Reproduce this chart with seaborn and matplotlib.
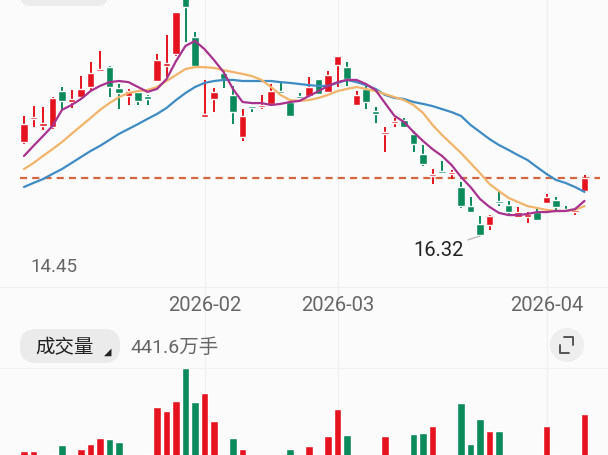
import numpy as np
import pandas as pd
import seaborn as sns
import matplotlib as mpl
mpl.use('Agg')
import matplotlib.pyplot as plt
from matplotlib.patches import FancyBboxPatch, Circle

# daily candles (price), oldest first
opens = [19.77, 20.62, 20.36, 20.32, 21.64, 21.24, 21.42, 21.79, 22.38, 22.52,
         21.75, 21.46, 21.61, 21.46, 22.01, 22.56, 23.00, 25.39, 23.63, 20.69,
         21.35, 22.30, 21.50, 19.96, 21.09, 21.06, 21.17, 21.64, 21.24, 21.46,
         21.46, 22.08, 21.61, 22.60, 22.52, 21.13, 21.72, 20.91, 20.07, 20.47,
         20.58, 20.07, 19.33, 18.52, 18.67, 18.60, 18.12, 17.42, 16.76, 16.73,
         17.57, 17.46, 17.02, 17.02, 17.20, 17.53, 17.64, 17.31, 17.20, 17.97]
closes = [20.43, 20.69, 20.47, 21.39, 21.28, 21.35, 21.72, 22.30, 22.45, 21.79,
          21.57, 21.64, 21.28, 21.35, 22.78, 22.67, 24.54, 24.73, 22.56, 20.80,
          21.61, 22.08, 20.87, 20.73, 21.02, 21.13, 21.64, 21.57, 20.73, 21.39,
          21.79, 21.53, 22.23, 22.93, 22.08, 21.50, 21.24, 20.80, 20.14, 20.51,
          20.32, 19.70, 18.96, 18.60, 18.63, 18.67, 17.42, 17.20, 16.36, 17.06,
          17.53, 17.20, 17.20, 17.13, 16.91, 17.75, 17.39, 17.24, 17.24, 18.45]
highs = [20.73, 21.09, 21.06, 21.42, 21.79, 21.68, 22.19, 22.71, 23.11, 22.56,
         21.90, 21.72, 21.63, 21.48, 23.00, 23.70, 24.56, 25.75, 23.81, 22.05,
         21.75, 22.38, 21.83, 20.98, 21.10, 21.50, 21.90, 21.97, 21.35, 21.57,
         22.16, 22.09, 22.38, 22.94, 22.71, 21.64, 21.83, 21.06, 20.32, 20.65,
         20.65, 20.18, 19.66, 18.78, 19.07, 18.74, 18.30, 17.75, 17.06, 17.09,
         17.94, 17.61, 17.39, 17.20, 17.39, 17.86, 17.75, 17.42, 17.25, 18.56]
lows = [19.70, 20.32, 20.21, 20.25, 20.98, 21.02, 21.35, 21.68, 22.34, 21.42,
        20.98, 21.13, 21.13, 21.13, 21.97, 22.16, 22.93, 23.44, 22.52, 20.67,
        20.87, 21.75, 20.43, 19.81, 20.87, 20.98, 21.13, 21.56, 20.72, 21.35,
        21.45, 21.52, 21.57, 21.79, 21.83, 21.09, 20.98, 20.47, 19.40, 20.32,
        20.31, 19.40, 18.89, 18.23, 18.62, 18.41, 17.35, 17.19, 16.32, 16.54,
        17.42, 17.13, 16.98, 16.80, 16.87, 17.50, 17.24, 17.20, 17.09, 17.94]

# moving averages as shown on the chart
ma5 = [19.26, 19.63, 19.99, 20.36, 20.95, 21.13, 21.35, 21.64, 21.83, 21.97,
       22.01, 21.97, 21.79, 21.61, 21.72, 22.08, 22.74, 23.30, 23.48, 23.18,
       22.78, 22.34, 21.72, 21.24, 21.20, 21.20, 21.13, 21.17, 21.24, 21.28,
       21.46, 21.64, 21.83, 21.97, 22.05, 22.05, 21.90, 21.68, 21.20, 20.73,
       20.51, 20.14, 19.81, 19.51, 19.26, 18.93, 18.49, 18.12, 17.68, 17.39,
       17.17, 17.09, 17.09, 17.13, 17.20, 17.20, 17.24, 17.24, 17.31, 17.61]
ma10 = [18.78, 19.00, 19.26, 19.51, 19.77, 20.07, 20.36, 20.65, 20.95, 21.20,
        21.42, 21.57, 21.64, 21.68, 21.79, 22.01, 22.23, 22.45, 22.52, 22.52,
        22.49, 22.41, 22.34, 22.27, 22.19, 22.05, 21.79, 21.50, 21.31, 21.28,
        21.31, 21.39, 21.50, 21.64, 21.72, 21.79, 21.72, 21.64, 21.53, 21.42,
        21.31, 21.13, 20.84, 20.40, 20.03, 19.70, 19.37, 19.00, 18.63, 18.23,
        17.97, 17.72, 17.57, 17.42, 17.35, 17.28, 17.24, 17.24, 17.28, 17.42]
ma20 = [18.12, 18.27, 18.41, 18.60, 18.78, 19.00, 19.22, 19.44, 19.63, 19.85,
        20.07, 20.25, 20.43, 20.62, 20.80, 21.02, 21.31, 21.57, 21.79, 21.94,
        22.01, 22.05, 22.05, 22.01, 22.01, 22.01, 22.01, 21.97, 21.94, 21.90,
        21.86, 21.83, 21.83, 21.94, 22.05, 21.97, 21.86, 21.72, 21.50, 21.39,
        21.35, 21.24, 21.17, 21.09, 20.98, 20.87, 20.73, 20.40, 20.14, 19.88,
        19.66, 19.48, 19.29, 19.11, 18.85, 18.60, 18.38, 18.27, 18.12, 17.94]

# volume, 万手
volume = [249, 249, 180, 234, 281, 170, 260, 286, 317, 312,
          296, 190, 200, 234, 478, 457, 509, 681, 504, 551,
          405, 210, 317, 260, 200, 160, 228, 180, 260, 150,
          275, 229, 327, 468, 332, 190, 210, 170, 327, 150,
          160, 338, 343, 379, 140, 150, 499, 286, 416, 353,
          353, 200, 180, 170, 190, 379, 234, 150, 120, 441.6]

month_pos = [19, 33, 55]
month_labels = ['2026-02', '2026-03', '2026-04']
axis_min_label = '14.45'

RED = '#e5131f'
GREEN = '#0b8a5c'
GREY = '#666666'

sns.set_theme(style='white')
plt.rcParams['font.family'] = ['Roboto', 'Noto Sans CJK SC', 'DejaVu Sans']
plt.rcParams['axes.unicode_minus'] = False

n = len(closes)
idx = np.arange(n)
o = np.array(opens)
c = np.array(closes)
up = c >= o
colors = np.where(up, RED, GREEN)

fig = plt.figure(figsize=(6.08, 4.56), dpi=100, facecolor='#fbfbfb')

# price panel, spans the whole figure (top is cut like the screenshot)
ax = fig.add_axes([0, 0, 1, 1])
ax.set_facecolor('none')
xlim = (-24 / 9.5, (608 - 24) / 9.5)
ylim = (25.02 - 0.0367 * 456, 25.02)

for p in month_pos:
    ax.axvline(p, color='#efefef', lw=0.8, zorder=0)
ax.axhline(float(axis_min_label), color='#efefef', lw=0.8, zorder=0)

ax.vlines(idx, lows, highs, colors=colors, lw=1.4, zorder=2)
body_low = np.minimum(o, c)
body_h = np.maximum(np.abs(c - o), 0.07)
ax.bar(idx, body_h, bottom=body_low, width=0.78, color=colors, zorder=2)

ma_df = pd.DataFrame({
    'idx': np.concatenate([idx, idx, idx]),
    'value': ma5 + ma10 + ma20,
    'line': ['MA5'] * n + ['MA10'] * n + ['MA20'] * n,
})
sns.lineplot(data=ma_df, x='idx', y='value', hue='line',
             hue_order=['MA20', 'MA10', 'MA5'],
             palette={'MA5': '#a9328f', 'MA10': '#f2b46a', 'MA20': '#3f8cc4'},
             linewidth=1.6, legend=False, ax=ax, zorder=3)
ax.set_xlim(*xlim)
ax.set_ylim(*ylim)
ax.axis('off')

ax.hlines(closes[-1], -0.45, 60.6, colors='#d4673f', lw=1.6,
          linestyles=(0, (3.2, 2.3)), zorder=1)

lo = int(np.argmin(lows))
ax.annotate(f'{lows[lo]:.2f}', xy=(lo, lows[lo]), xytext=(-12, -9.5),
            textcoords='offset points', ha='right', va='center',
            fontsize=14.5, color='#222222',
            arrowprops=dict(arrowstyle='-', color='#bbbbbb', lw=1,
                            shrinkA=1, shrinkB=0))

for p, lab in zip(month_pos, month_labels):
    ax.text(p, 0.331, lab, transform=ax.get_xaxis_transform(),
            ha='center', va='center', fontsize=14.5, color=GREY)

# volume panel, baseline sits below the visible area
vax = fig.add_axes([0, -0.0965, 1, 0.307])
vax.set_facecolor('none')
vol_df = pd.DataFrame({'idx': idx, 'vol': volume,
                       'key': [f'd{i}' for i in idx]})
sns.barplot(data=vol_df, x='idx', y='vol', hue='key',
            hue_order=list(vol_df['key']),
            palette=dict(zip(vol_df['key'], colors)), dodge=False,
            width=0.8, saturation=1, legend=False, ax=vax)
vax.set_xlim(*xlim)
vax.set_ylim(0, 727.3)
vax.axis('off')

# overlay in pixel coordinates for the chrome
ov = fig.add_axes([0, 0, 1, 1])
ov.set_xlim(0, 608)
ov.set_ylim(456, 0)
ov.axis('off')
ov.set_facecolor('none')

ov.add_patch(FancyBboxPatch((20, -30), 88, 37,
                            boxstyle='round,pad=0,rounding_size=10',
                            fc='#ececec', ec='none'))
ov.axhline(369, color='#f1f1f1', lw=0.8, zorder=0)
ov.text(30, 267, axis_min_label, ha='left', va='center', fontsize=13.5,
        color=GREY)

ov.add_patch(FancyBboxPatch((20, 330), 100, 34,
                            boxstyle='round,pad=0,rounding_size=16',
                            fc='#ebebeb', ec='none'))
ov.text(35, 348, '成交量', ha='left', va='center', fontsize=14,
        color='#222222', family=['Noto Sans CJK SC'])
ov.text(104, 352, '◢', ha='left', va='center', fontsize=7,
        color='#222222', family=['DejaVu Sans'])
ov.text(130, 348, '441.6万手', ha='left', va='center', fontsize=14,
        color=GREY, family=['Roboto', 'Noto Sans CJK SC'])

ov.add_patch(Circle((567, 346), 17, fc='#eeeeee', ec='none'))
ov.plot([564, 573, 573], [338, 338, 346], color='#555555', lw=1.4)
ov.plot([560, 560, 569], [346, 354, 354], color='#555555', lw=1.4)

fig.savefig('out.png', dpi=100, facecolor=fig.get_facecolor())
